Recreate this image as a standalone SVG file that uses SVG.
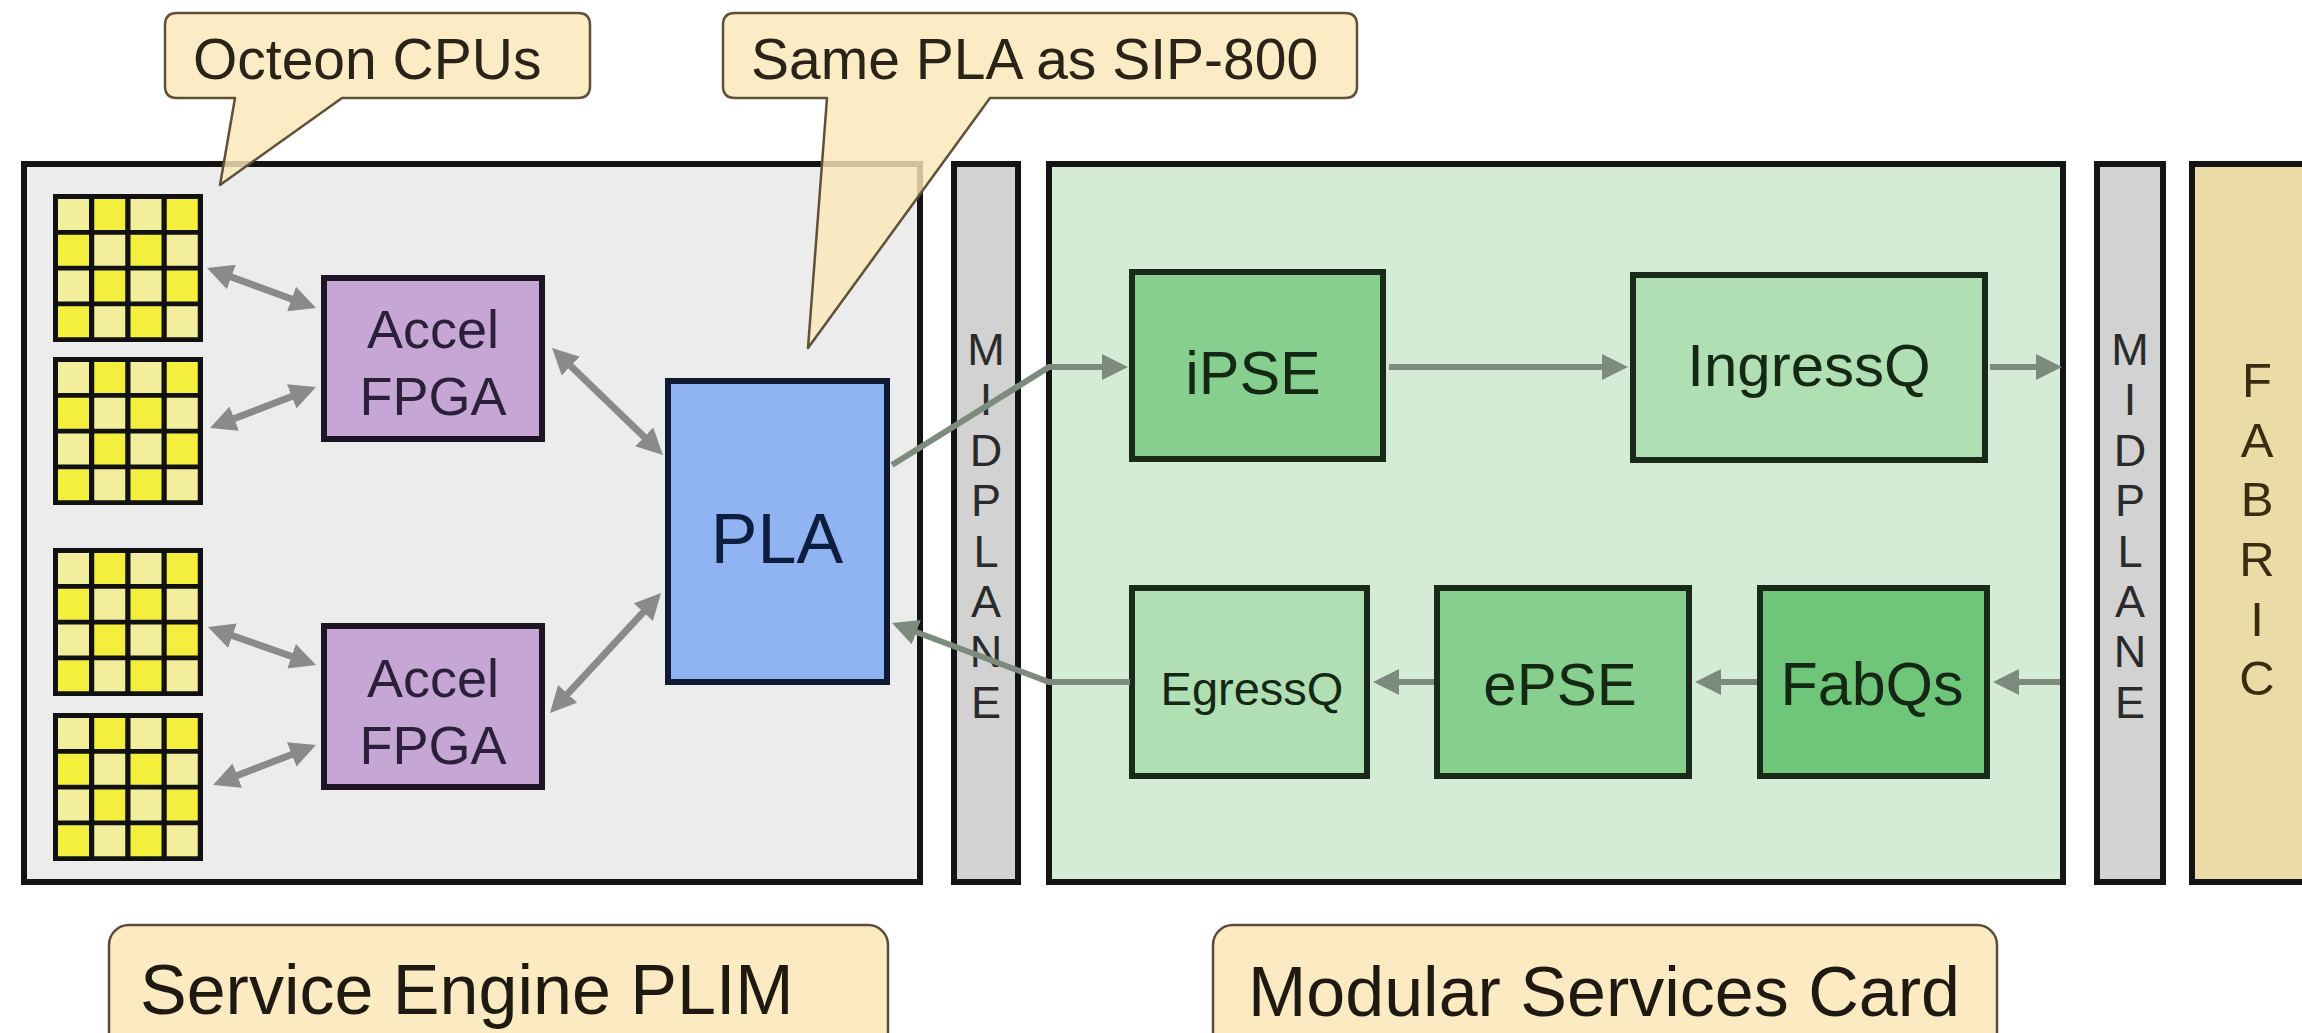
<svg xmlns="http://www.w3.org/2000/svg" width="2302" height="1033" viewBox="0 0 2302 1033">
  <style>
    text { font-family: "Liberation Sans", Arial, sans-serif; }
    .container { stroke: #141414; stroke-width: 6; }
    .plim { fill: #ececec; }
    .msc { fill: #d4ecd5; }
    .midplane { fill: #d2d2d2; }
    .fabric { fill: #ebdba6; }
    .accel { fill: #c5a6d4; stroke: #1e1424; stroke-width: 6; }
    .pla { fill: #8fb4f1; stroke: #111a33; stroke-width: 6; }
    .gbox { stroke: #1a2a1a; stroke-width: 6; }
    .dark { fill: #86cf8e; }
    .darker { fill: #6fc67b; }
    .light { fill: #b1dfb4; }
    .accel-t { font-size: 54px; fill: #2b1f3a; text-anchor: middle; }
    .pla-t { font-size: 70px; fill: #0e1e40; text-anchor: middle; }
    .g-t { fill: #142814; text-anchor: middle; }
    .mid-t { font-size: 45px; fill: #2a2a2a; text-anchor: middle; }
    .fab-t { font-size: 49px; fill: #3a2c10; text-anchor: middle; }
    .link2 { stroke: #8a8a8a; stroke-width: 7; fill: none; marker-start: url(#headGray); marker-end: url(#headGray); }
    .flow { stroke: #7d8b7e; stroke-width: 6; fill: none; marker-end: url(#headGreen); }
    .callout { fill: #fae8b8; fill-opacity: 0.82; stroke: #5f5038; stroke-width: 2.5; stroke-linejoin: round; }
    .callout-t { font-size: 57px; fill: #2a2418; }
    .label { fill: #fcebc2; stroke: #5a4c38; stroke-width: 2.5; }
    .label-t { font-size: 70px; fill: #1e1a12; }
    .cell-a { fill: #f4ef3c; }
    .cell-b { fill: #f2ee9c; }
  </style>
  <defs>
    <marker id="headGray" markerUnits="userSpaceOnUse" markerWidth="26" markerHeight="26" refX="18" refY="13" orient="auto-start-reverse" viewBox="0 0 26 26">
      <path d="M0,0 L26,13 L0,26 Z" fill="#8a8a8a"/>
    </marker>
    <marker id="headGreen" markerUnits="userSpaceOnUse" markerWidth="26" markerHeight="26" refX="18" refY="13" orient="auto" viewBox="0 0 26 26">
      <path d="M0,0 L26,13 L0,26 Z" fill="#7d8b7e"/>
    </marker>
    <!-- 4x4 Octeon core grid -->
    <g id="cpuGrid">
      <rect x="0" y="0" width="150" height="148" fill="#111"/>
      <rect class="cell-b" x="5" y="5" width="31" height="31"/>
      <rect class="cell-a" x="41.25" y="5" width="31" height="31"/>
      <rect class="cell-b" x="77.5" y="5" width="31" height="31"/>
      <rect class="cell-a" x="113.75" y="5" width="31" height="31"/>
      <rect class="cell-a" x="5" y="40.75" width="31" height="31"/>
      <rect class="cell-b" x="41.25" y="40.75" width="31" height="31"/>
      <rect class="cell-a" x="77.5" y="40.75" width="31" height="31"/>
      <rect class="cell-b" x="113.75" y="40.75" width="31" height="31"/>
      <rect class="cell-b" x="5" y="76.5" width="31" height="31"/>
      <rect class="cell-a" x="41.25" y="76.5" width="31" height="31"/>
      <rect class="cell-b" x="77.5" y="76.5" width="31" height="31"/>
      <rect class="cell-a" x="113.75" y="76.5" width="31" height="31"/>
      <rect class="cell-a" x="5" y="112.25" width="31" height="31"/>
      <rect class="cell-b" x="41.25" y="112.25" width="31" height="31"/>
      <rect class="cell-a" x="77.5" y="112.25" width="31" height="31"/>
      <rect class="cell-b" x="113.75" y="112.25" width="31" height="31"/>
    </g>
  </defs>

  <rect width="2302" height="1033" fill="#ffffff"/>

  <!-- containers -->
  <g id="plim">
    <rect class="container plim" x="24" y="164" width="896" height="718"/>
  </g>
  <g id="midplane-1">
    <rect class="container midplane" x="954" y="164" width="64" height="718"/>
    <text class="mid-t" x="986" y="365">M</text>
    <text class="mid-t" x="986" y="415">I</text>
    <text class="mid-t" x="986" y="466">D</text>
    <text class="mid-t" x="986" y="516">P</text>
    <text class="mid-t" x="986" y="567">L</text>
    <text class="mid-t" x="986" y="617">A</text>
    <text class="mid-t" x="986" y="667">N</text>
    <text class="mid-t" x="986" y="718">E</text>
  </g>
  <g id="msc">
    <rect class="container msc" x="1049" y="164" width="1014" height="718"/>
  </g>
  <g id="midplane-2">
    <rect class="container midplane" x="2097" y="164" width="66" height="718"/>
    <text class="mid-t" x="2130" y="365">M</text>
    <text class="mid-t" x="2130" y="415">I</text>
    <text class="mid-t" x="2130" y="466">D</text>
    <text class="mid-t" x="2130" y="516">P</text>
    <text class="mid-t" x="2130" y="567">L</text>
    <text class="mid-t" x="2130" y="617">A</text>
    <text class="mid-t" x="2130" y="667">N</text>
    <text class="mid-t" x="2130" y="718">E</text>
  </g>
  <g id="fabric">
    <rect class="container fabric" x="2192" y="164" width="130" height="718"/>
    <text class="fab-t" x="2257" y="397">F</text>
    <text class="fab-t" x="2257" y="457">A</text>
    <text class="fab-t" x="2257" y="516">B</text>
    <text class="fab-t" x="2257" y="576">R</text>
    <text class="fab-t" x="2257" y="636">I</text>
    <text class="fab-t" x="2257" y="695">C</text>
  </g>

  <!-- CPU grids -->
  <g id="cpu-1"><use href="#cpuGrid" x="53" y="194"/></g>
  <g id="cpu-2"><use href="#cpuGrid" x="53" y="357"/></g>
  <g id="cpu-3"><use href="#cpuGrid" x="53" y="548"/></g>
  <g id="cpu-4"><use href="#cpuGrid" x="53" y="713"/></g>

  <!-- PLIM blocks -->
  <g id="accel-1">
    <rect class="accel" x="324" y="278" width="218" height="161"/>
    <text class="accel-t" x="433" y="348">Accel</text>
    <text class="accel-t" x="433" y="415">FPGA</text>
  </g>
  <g id="accel-2">
    <rect class="accel" x="324" y="626" width="218" height="161"/>
    <text class="accel-t" x="433" y="697">Accel</text>
    <text class="accel-t" x="433" y="764">FPGA</text>
  </g>
  <g id="pla">
    <rect class="pla" x="668" y="381" width="219" height="301"/>
    <text class="pla-t" x="777" y="563">PLA</text>
  </g>

  <!-- MSC blocks -->
  <g id="ipse">
    <rect class="gbox dark" x="1132" y="272" width="251" height="187"/>
    <text class="g-t" x="1253" y="394" font-size="61">iPSE</text>
  </g>
  <g id="ingressq">
    <rect class="gbox light" x="1633" y="275" width="352" height="185"/>
    <text class="g-t" x="1809" y="386" font-size="60">IngressQ</text>
  </g>
  <g id="egressq">
    <rect class="gbox light" x="1132" y="588" width="235" height="188"/>
    <text class="g-t" x="1252" y="705" font-size="47">EgressQ</text>
  </g>
  <g id="epse">
    <rect class="gbox dark" x="1437" y="588" width="252" height="188"/>
    <text class="g-t" x="1560" y="705" font-size="60">ePSE</text>
  </g>
  <g id="fabqs">
    <rect class="gbox darker" x="1760" y="588" width="227" height="188"/>
    <text class="g-t" x="1872" y="705" font-size="61">FabQs</text>
  </g>

  <!-- connectors -->
  <g id="connectors">
    <line class="link2" x1="214.5" y1="270.8" x2="308.5" y2="305.2"/>
    <line class="link2" x1="217.5" y1="425.1" x2="308.5" y2="389.9"/>
    <line class="link2" x1="557.8" y1="353.6" x2="657.2" y2="449.4"/>
    <line class="link2" x1="215.5" y1="629.7" x2="308.5" y2="662.3"/>
    <line class="link2" x1="220.5" y1="782.1" x2="308.5" y2="747.9"/>
    <line class="link2" x1="555.4" y1="707.1" x2="655.6" y2="598.9"/>

    <polyline class="flow" points="892,465 1049,367 1120,367"/>
    <line class="flow" x1="1389" y1="367" x2="1620" y2="367"/>
    <line class="flow" x1="1990" y1="367" x2="2054" y2="367"/>
    <line class="flow" x1="2060" y1="682" x2="2001" y2="682"/>
    <line class="flow" x1="1757" y1="682" x2="1703" y2="682"/>
    <line class="flow" x1="1434" y1="682" x2="1381" y2="682"/>
    <polyline class="flow" points="1130,682 1049,682 899.5,625.8"/>
  </g>

  <!-- callouts -->
  <g id="callout-octeon">
    <path class="callout" d="M177,13 H578 Q590,13 590,25 V86 Q590,98 578,98 H342 L220,185 L235,98 H177 Q165,98 165,86 V25 Q165,13 177,13 Z"/>
    <text class="callout-t" x="193" y="79">Octeon CPUs</text>
  </g>
  <g id="callout-pla">
    <path class="callout" d="M735,13 H1345 Q1357,13 1357,25 V86 Q1357,98 1345,98 H990 L808,348 L827,98 H735 Q723,98 723,86 V25 Q723,13 735,13 Z"/>
    <text class="callout-t" x="751" y="79">Same PLA as SIP-800</text>
  </g>

  <!-- bottom labels -->
  <g id="label-plim">
    <rect class="label" x="109" y="925" width="779" height="130" rx="20"/>
    <text class="label-t" x="140" y="1014">Service Engine PLIM</text>
  </g>
  <g id="label-msc">
    <rect class="label" x="1213" y="925" width="784" height="130" rx="20"/>
    <text class="label-t" x="1248" y="1016">Modular Services Card</text>
  </g>
</svg>
